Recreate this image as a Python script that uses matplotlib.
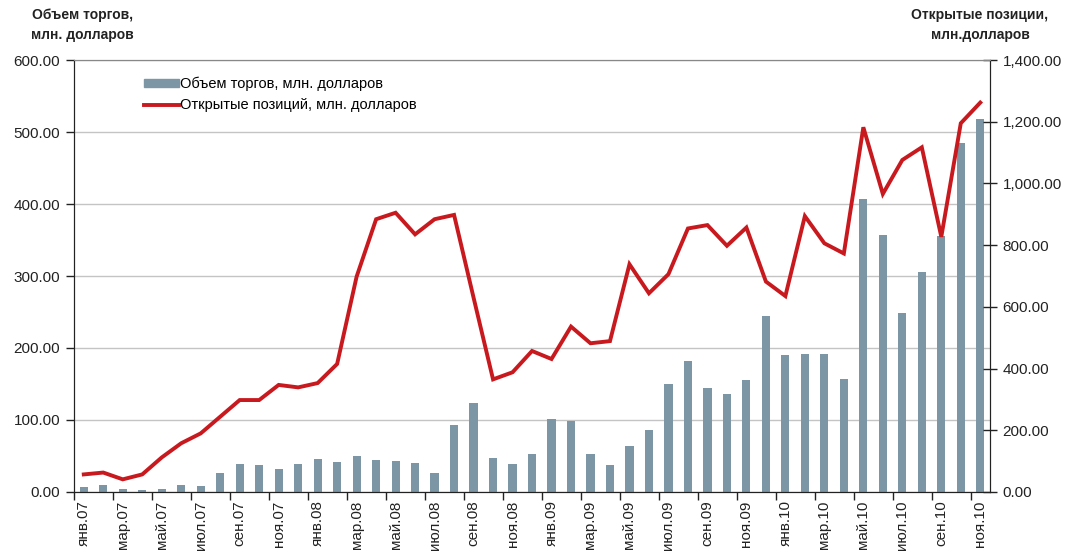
import matplotlib
matplotlib.use("Agg")
import matplotlib.pyplot as plt
from matplotlib.lines import Line2D
from matplotlib.patches import Patch
import numpy as np

plt.rcParams['font.family'] = ['Liberation Sans', 'DejaVu Sans']

tick_labels = ["янв.07", "мар.07", "май.07", "июл.07", "сен.07", "ноя.07",
               "янв.08", "мар.08", "май.08", "июл.08", "сен.08", "ноя.08",
               "янв.09", "мар.09", "май.09", "июл.09", "сен.09", "ноя.09",
               "янв.10", "мар.10", "май.10", "июл.10", "сен.10", "ноя.10"]

# monthly, Jan 2007 .. Nov 2010
volume = [6.5, 10, 3.7, 3, 4.6, 10, 8.3, 27, 39, 37, 32, 39,
          46, 41, 50, 44, 42.6, 40.7, 27, 93, 124, 47, 39, 53,
          101, 98.6, 53, 37, 64, 86, 150, 182, 144, 136, 155, 245,
          190, 192, 192, 157, 407, 357, 248, 306, 355, 485, 518]

open_pos = [57, 63, 41, 57, 112, 158, 190, 244, 298, 298, 347, 339,
            353, 415, 698, 884, 905, 835, 884, 898, 630, 365, 388, 457,
            431, 536, 482, 489, 738, 644, 706, 854, 865, 798, 857, 682,
            635, 894, 806, 773, 1182, 966, 1076, 1117, 827, 1195, 1262]

left_ticks = [0, 100, 200, 300, 400, 500, 600]
right_ticks = [0, 200, 400, 600, 800, 1000, 1200, 1400]

bar_color = '#7D96A6'
line_color = '#C8191E'

fig = plt.figure(figsize=(10.84, 5.52), dpi=100)
ax = fig.add_axes([0.0683, 0.1087, 0.8450, 0.7826])
ax2 = ax.twinx()

x = np.arange(len(volume))
ax.bar(x, volume, width=0.42, color=bar_color, zorder=2)
ax2.plot(x, open_pos, color=line_color, lw=2.8, zorder=3, solid_joinstyle='miter')

ax.set_xlim(-0.5, len(volume) - 0.5)
ax.set_ylim(0, 600)
ax2.set_ylim(0, 1400)

ax.set_yticks(left_ticks)
ax.set_yticklabels([f"{v:.2f}" for v in left_ticks])
ax2.set_yticks(right_ticks)
ax2.set_yticklabels([f"{v:,.2f}" for v in right_ticks])

ax.yaxis.grid(True, color='#C4C4C4', lw=1, zorder=0)
ax.set_axisbelow(True)

ax.set_xticks(np.arange(0, len(volume), 2))
ax.set_xticklabels(tick_labels, rotation=90, fontsize=11, color='#222222')
ax.tick_params(axis='x', which='major', length=0, pad=6)
ax.set_xticks(np.arange(-0.5, len(volume) - 1, 2), minor=True)
ax.tick_params(axis='x', which='minor', length=6, width=1, direction='out', color='#222222')

ax.tick_params(axis='y', length=6, width=1, direction='out', labelsize=11, colors='#222222', pad=4)
ax2.tick_params(axis='y', length=10, width=1, direction='inout', labelsize=11, colors='#222222', pad=4)

for a in (ax, ax2):
    a.spines['top'].set_color('#888888')
    a.spines['left'].set_color('#222222')
    a.spines['right'].set_color('#222222')
    a.spines['bottom'].set_color('#222222')

handles = [Patch(color=bar_color), Line2D([], [], color=line_color, lw=2.8)]
labels = ["Объем торгов, млн. долларов", "Открытые позиций, млн. долларов"]
ax2.legend(handles, labels, loc='upper left', bbox_to_anchor=(0.07, 0.975),
           frameon=False, fontsize=10.5, handlelength=2.4, handleheight=0.4,
           handletextpad=0.1, labelspacing=0.5, borderaxespad=0)

fig.text(0.076, 0.985, "Объем торгов,\nмлн. долларов", ha='center', va='top',
         fontsize=10, fontweight='bold', linespacing=1.5, color='#222222')
fig.text(0.904, 0.985, "Открытые позиции,\nмлн.долларов", ha='center', va='top',
         fontsize=10, fontweight='bold', linespacing=1.5, color='#222222')

fig.savefig("out.png", dpi=100)
